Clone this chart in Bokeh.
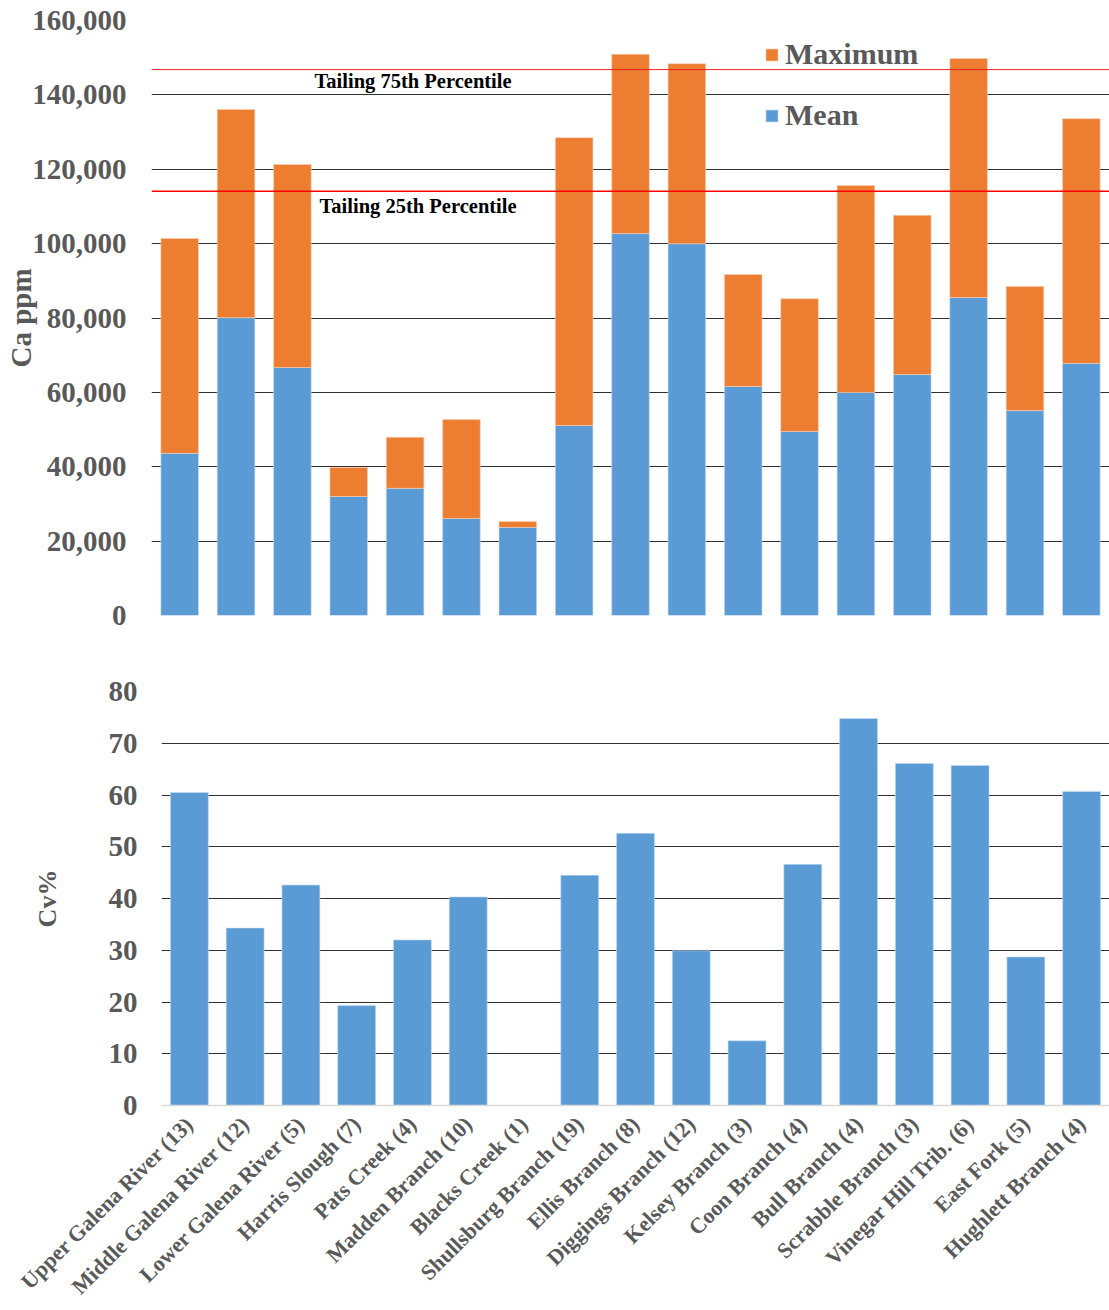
import math
from bokeh.plotting import figure
from bokeh.models import (Range1d, FactorRange, FixedTicker, NumeralTickFormatter,
                          Span, Legend, LegendItem, ColumnDataSource)
from bokeh.core.properties import value
from bokeh.embed import file_html
from bokeh.resources import INLINE

categories = ["Upper Galena River (13)", "Middle Galena River (12)", "Lower Galena River (5)",
              "Harris Slough (7)", "Pats Creek (4)", "Madden Branch (10)", "Blacks Creek (1)",
              "Shullsburg Branch (19)", "Ellis Branch (8)", "Diggings Branch (12)",
              "Kelsey Branch (3)", "Coon Branch (4)", "Bull Branch (4)", "Scrabble Branch (3)",
              "Vinegar Hill Trib. (6)", "East Fork (5)", "Hughlett Branch (4)"]
ca_mean = [43600, 80100, 66700, 32000, 34200, 26100, 23700, 51100, 102700, 100000,
           61600, 49500, 60000, 64800, 85500, 55100, 67800]
ca_max = [101400, 136100, 121300, 39800, 47900, 52700, 25300, 128500, 150900, 148400,
          91700, 85200, 115600, 107600, 149800, 88500, 133600]
cv_pct = [60.5, 34.3, 42.6, 19.3, 32.0, 40.3, float("nan"), 44.5, 52.6, 29.9,
          12.5, 46.6, 74.8, 66.1, 65.7, 28.7, 60.7]
tailing_p75 = 146800
tailing_p25 = 114100
ca_ticks = list(range(0, 160001, 20000))
cv_ticks = list(range(0, 81, 10))

FONT = "Liberation Serif"
GRAY = "#595959"
BLUE = "#5b9bd5"
ORANGE = "#ed7d31"
GRID = "#303030"

src = ColumnDataSource(dict(cat=categories, mean=ca_mean, mx=ca_max, cv=cv_pct))

# ---------------- Top chart ----------------
p1 = figure(width=1109, height=640, x_range=FactorRange(*categories, range_padding=0),
            y_range=Range1d(0, 160000), output_backend="svg", toolbar_location=None,
            min_border_left=151, min_border_right=0, min_border_top=20, min_border_bottom=25)
p1.outline_line_color = None
p1.xaxis.visible = False
p1.xgrid.grid_line_color = None
p1.ygrid.ticker = FixedTicker(ticks=ca_ticks)
p1.ygrid.grid_line_color = GRID
p1.ygrid.grid_line_width = 1

r_mean = p1.vbar(x="cat", top="mean", bottom=0, width=0.667, source=src,
                 fill_color=BLUE, line_color="#c9dcf0", line_width=0.6)
r_max = p1.vbar(x="cat", top="mx", bottom="mean", width=0.667, source=src,
                fill_color=ORANGE, line_color="#f8d2b8", line_width=0.6)

ya = p1.yaxis[0]
ya.ticker = FixedTicker(ticks=ca_ticks)
ya.formatter = NumeralTickFormatter(format="0,0")
ya.axis_line_color = None
ya.major_tick_line_color = None
ya.minor_tick_line_color = None
ya.major_label_text_font = FONT
ya.major_label_text_font_style = "bold"
ya.major_label_text_font_size = "29px"
ya.major_label_text_color = GRAY
ya.major_label_standoff = 19
ya.axis_label = "Ca ppm"
ya.axis_label_text_font = FONT
ya.axis_label_text_font_style = "bold"
ya.axis_label_text_font_size = "29px"
ya.axis_label_text_color = GRAY
ya.axis_label_standoff = -8

p1.add_layout(Span(location=tailing_p75, dimension="width", line_color="#ff2020", line_width=1))
p1.add_layout(Span(location=tailing_p25, dimension="width", line_color="#ff0000", line_width=1.6))

p1.text(x=["Pats Creek (4)"], y=[tailing_p75 - 3200], text=["Tailing 75th Percentile"],
        x_offset=8, text_align="center", text_baseline="middle",
        text_font=value(FONT), text_font_style="bold", text_font_size="20.5px", text_color="black")
p1.text(x=["Pats Creek (4)"], y=[tailing_p25 - 4000], text=["Tailing 25th Percentile"],
        x_offset=13, text_align="center", text_baseline="middle",
        text_font=value(FONT), text_font_style="bold", text_font_size="20.5px", text_color="black")

legend = Legend(items=[LegendItem(label="Maximum", renderers=[r_max]),
                       LegendItem(label="Mean", renderers=[r_mean])],
                location=(613, 483), orientation="vertical",
                glyph_width=15, glyph_height=15, label_standoff=6, spacing=27,
                padding=0, margin=0, border_line_color=None, background_fill_alpha=0,
                label_text_font=FONT, label_text_font_style="bold",
                label_text_font_size="30px", label_text_color=GRAY)
p1.add_layout(legend)

# ---------------- Bottom chart ----------------
p2 = figure(width=1109, height=670, x_range=FactorRange(*categories, range_padding=0),
            y_range=Range1d(0, 80), output_backend="svg", toolbar_location=None,
            min_border_left=161, min_border_right=0, min_border_top=51, min_border_bottom=204)
p2.outline_line_color = None
p2.xgrid.grid_line_color = None
p2.ygrid.ticker = FixedTicker(ticks=cv_ticks[1:])
p2.ygrid.grid_line_color = GRID
p2.ygrid.grid_line_width = 1

p2.vbar(x="cat", top="cv", bottom=0, width=0.68, source=src,
        fill_color=BLUE, line_color="#c9dcf0", line_width=0.6)

xa = p2.xaxis[0]
xa.axis_line_color = "#d9d9d9"
xa.axis_line_width = 1.5
xa.major_tick_line_color = None
xa.minor_tick_line_color = None
xa.major_label_orientation = math.pi / 4
xa.major_label_text_font = FONT
xa.major_label_text_font_style = "bold"
xa.major_label_text_font_size = "22px"
xa.major_label_text_color = GRAY
xa.major_label_standoff = 9

ya2 = p2.yaxis[0]
ya2.ticker = FixedTicker(ticks=cv_ticks)
ya2.axis_line_color = None
ya2.major_tick_line_color = None
ya2.minor_tick_line_color = None
ya2.major_label_text_font = FONT
ya2.major_label_text_font_style = "bold"
ya2.major_label_text_font_size = "29px"
ya2.major_label_text_color = GRAY
ya2.major_label_standoff = 18
ya2.axis_label = "Cv%"
ya2.axis_label_text_font = FONT
ya2.axis_label_text_font_style = "bold"
ya2.axis_label_text_font_size = "26px"
ya2.axis_label_text_color = GRAY
ya2.axis_label_standoff = 44

open("out.html", "w").write(file_html([p1, p2], INLINE))
